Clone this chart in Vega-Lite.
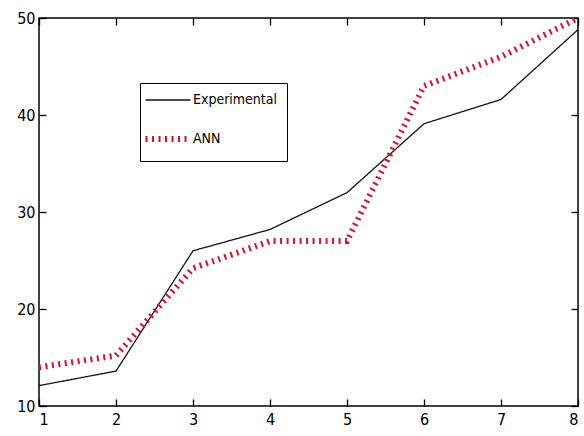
{
  "$schema": "https://vega.github.io/schema/vega-lite/v6.json",
  "width": 539,
  "height": 388,
  "autosize": {"type": "none"},
  "padding": {"left": 39, "top": 18, "right": 6, "bottom": 30},
  "background": "white",
  "config": {
    "view": {"stroke": "black", "strokeWidth": 1.5},
    "axis": {
      "grid": false,
      "domain": false,
      "tickColor": "black",
      "tickSize": -7,
      "tickWidth": 1.3,
      "labelFont": "DejaVu Sans Condensed, DejaVu Sans, sans-serif",
      "labelFontSize": 16,
      "labelColor": "black",
      "title": null
    }
  },
  "data": {
    "values": [
      {"x": 1, "y": 12.1, "series": "Experimental"},
      {"x": 2, "y": 13.6, "series": "Experimental"},
      {"x": 3, "y": 26.0, "series": "Experimental"},
      {"x": 4, "y": 28.2, "series": "Experimental"},
      {"x": 5, "y": 32.0, "series": "Experimental"},
      {"x": 6, "y": 39.1, "series": "Experimental"},
      {"x": 7, "y": 41.6, "series": "Experimental"},
      {"x": 8, "y": 48.8, "series": "Experimental"},
      {"x": 1, "y": 14.0, "series": "ANN"},
      {"x": 2, "y": 15.2, "series": "ANN"},
      {"x": 3, "y": 24.2, "series": "ANN"},
      {"x": 4, "y": 27.0, "series": "ANN"},
      {"x": 5, "y": 27.0, "series": "ANN"},
      {"x": 6, "y": 43.0, "series": "ANN"},
      {"x": 7, "y": 46.0, "series": "ANN"},
      {"x": 8, "y": 50.0, "series": "ANN"}
    ]
  },
  "layer": [
    {
      "transform": [{"filter": "datum.series === 'Experimental'"}],
      "mark": {"type": "line", "clip": false, "strokeWidth": 1.3},
      "encoding": {
        "x": {"field": "x", "type": "quantitative", "scale": {"domain": [1, 8], "nice": false, "zero": false},
              "axis": {"orient": "bottom", "values": [1,2,3,4,5,6,7,8], "labelPadding": 12, "labelBaseline": "top"}},
        "y": {"field": "y", "type": "quantitative", "scale": {"domain": [10, 50], "nice": false, "zero": false},
              "axis": {"orient": "left", "values": [10,20,30,40,50], "labelPadding": 11}},
        "color": {"field": "series", "type": "nominal",
                  "scale": {"domain": ["Experimental", "ANN"], "range": ["#111111", "#d0142c"]},
                  "legend": {
                    "orient": "none", "legendX": 101, "legendY": 65,
                    "title": null,
                    "symbolType": "stroke",
                    "symbolSize": 2025,
                    "symbolOffset": 11,
                    "labelFont": "DejaVu Sans Condensed, DejaVu Sans, sans-serif",
                    "labelFontSize": 14,
                    "labelColor": "black",
                    "labelOffset": 18,
                    "rowPadding": 20,
                    "padding": 10,
                    "strokeColor": "black",
                    "fillColor": "white",
                    "encode": {"symbols": {"update": {
                      "strokeWidth": {"signal": "datum.value === 'ANN' ? 6 : 1.5"},
                      "strokeDash": {"signal": "datum.value === 'ANN' ? [2, 4.5] : [1, 0]"}
                    }}}
                  }},
        "strokeDash": {"field": "series", "type": "nominal", "legend": null,
                       "scale": {"domain": ["Experimental", "ANN"], "range": [[1, 0], [2, 4.5]]}}
      }
    },
    {
      "transform": [{"filter": "datum.series === 'ANN'"}],
      "mark": {"type": "line", "clip": false, "strokeWidth": 6},
      "encoding": {
        "x": {"field": "x", "type": "quantitative", "axis": null},
        "y": {"field": "y", "type": "quantitative", "axis": null},
        "color": {"field": "series", "type": "nominal"},
        "strokeDash": {"field": "series", "type": "nominal", "legend": null}
      }
    },
    {
      "mark": {"type": "line", "strokeOpacity": 0},
      "encoding": {
        "x": {"field": "x", "type": "quantitative",
              "axis": {"orient": "top", "values": [1,2,3,4,5,6,7,8], "labels": false}},
        "y": {"field": "y", "type": "quantitative",
              "axis": {"orient": "right", "values": [10,20,30,40,50], "labels": false}},
        "detail": {"field": "series"}
      }
    }
  ]
}
